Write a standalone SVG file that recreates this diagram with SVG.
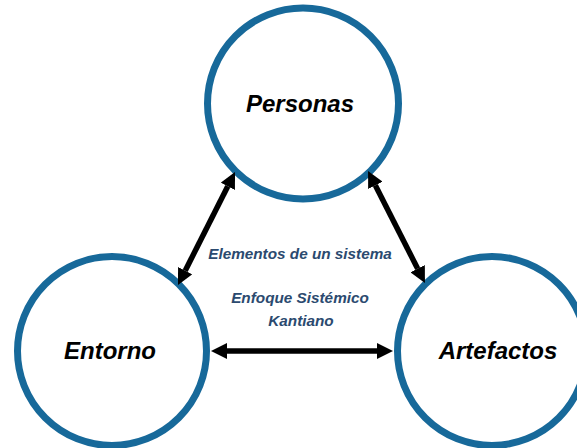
<svg xmlns="http://www.w3.org/2000/svg" width="577" height="448" viewBox="0 0 577 448">
  <style>
    .node circle { fill: #ffffff; stroke: #17699a; stroke-width: 7; }
    .label { font-family: "Liberation Sans", Arial, sans-serif; font-weight: bold; font-style: italic; font-size: 24px; fill: #000000; text-anchor: middle; }
    .note { font-family: "Liberation Sans", Arial, sans-serif; font-weight: bold; font-style: italic; font-size: 15.3px; fill: #2b4a6f; text-anchor: middle; }
    .conn line { stroke: #000000; stroke-width: 5.5; marker-start: url(#head); marker-end: url(#head); }
  </style>
  <defs>
    <marker id="head" viewBox="0 0 16 16" refX="0" refY="8" markerWidth="16" markerHeight="16" markerUnits="userSpaceOnUse" orient="auto-start-reverse">
      <path d="M0,0 L16,8 L0,16 z" fill="#000000"/>
    </marker>
  </defs>
  <rect width="577" height="448" fill="#ffffff"/>
  <g id="personas" class="node">
    <circle cx="303" cy="103.5" r="95.5"/>
    <text class="label" x="300" y="112">Personas</text>
  </g>
  <g id="entorno" class="node">
    <circle cx="112" cy="351" r="94.5"/>
    <text class="label" x="110" y="359">Entorno</text>
  </g>
  <g id="artefactos" class="node">
    <circle cx="492" cy="351" r="94.5"/>
    <text class="label" x="498" y="359">Artefactos</text>
  </g>
  <g id="connectors" class="conn">
    <line x1="227.8" y1="186.3" x2="185.2" y2="270.7"/>
    <line x1="375.3" y1="185.3" x2="417.7" y2="268.7"/>
    <line x1="227" y1="351" x2="377" y2="351"/>
  </g>
  <g id="labels">
    <text class="note" x="300" y="259">Elementos de un sistema</text>
    <text class="note" x="300" y="303">Enfoque Sistémico</text>
    <text class="note" x="301" y="326">Kantiano</text>
  </g>
</svg>
